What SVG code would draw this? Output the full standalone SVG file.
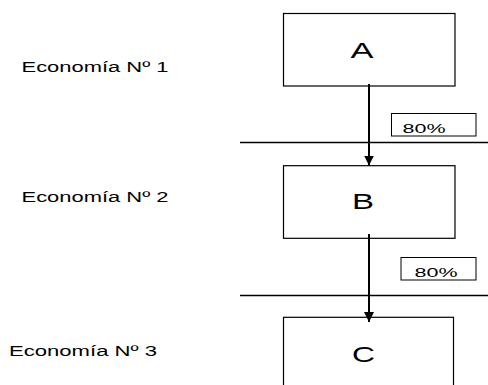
<svg xmlns="http://www.w3.org/2000/svg" width="488" height="385" viewBox="0 0 488 385">
<style>
.box{fill:#fff;stroke:#000;stroke-width:1.2}
.lbl{fill:#fff;stroke:#000;stroke-width:1}
.sep{stroke:#000;stroke-width:1.3;fill:none}
.arr{stroke:#000;stroke-width:2;fill:none}
text{font-family:"Liberation Sans",Arial,sans-serif;fill:#000}
.big{font-size:22px}
.side{font-size:14px}
.pct{font-size:13px}
</style>
<defs>
<marker id="ah" markerWidth="10" markerHeight="10" viewBox="0 0 10 10" refX="10" refY="5" orient="auto" markerUnits="userSpaceOnUse">
<path d="M0,0 L10,5 L0,10 Z" fill="#000"/>
</marker>
</defs>
<rect width="488" height="385" fill="#fff"/>
<g id="separators">
<line class="sep" x1="240" y1="142.5" x2="488" y2="142.5"/>
<line class="sep" x1="240" y1="295.5" x2="488" y2="295.5"/>
</g>
<g id="label1"><text class="side" x="21.5" y="71.5" textLength="147" lengthAdjust="spacingAndGlyphs">Economía Nº 1</text></g>
<g id="label2"><text class="side" x="21.5" y="201.5" textLength="147" lengthAdjust="spacingAndGlyphs">Economía Nº 2</text></g>
<g id="label3"><text class="side" x="9" y="356" textLength="148" lengthAdjust="spacingAndGlyphs">Economía Nº 3</text></g>
<g id="A">
<rect class="box" x="283.5" y="13.5" width="171.5" height="72.5"/>
<text class="big" x="350.5" y="57.7" textLength="23" lengthAdjust="spacingAndGlyphs">A</text>
</g>
<g id="B">
<rect class="box" x="283.5" y="165.7" width="171.5" height="72.6"/>
<text class="big" x="352" y="209.3" textLength="22" lengthAdjust="spacingAndGlyphs">B</text>
</g>
<g id="C">
<rect class="box" x="283.5" y="317.3" width="170" height="90"/>
<text class="big" x="352" y="361.7" textLength="23" lengthAdjust="spacingAndGlyphs">C</text>
</g>
<g id="pct1">
<rect class="lbl" x="391.5" y="113.5" width="84.5" height="22.5"/>
<text class="pct" x="402.5" y="133.3" textLength="43" lengthAdjust="spacingAndGlyphs">80%</text>
</g>
<g id="pct2">
<rect class="lbl" x="401" y="257.5" width="75" height="22.5"/>
<text class="pct" x="414.5" y="276.7" textLength="43" lengthAdjust="spacingAndGlyphs">80%</text>
</g>
<g id="connectors">
<line class="arr" x1="369" y1="84" x2="369" y2="165.5" marker-end="url(#ah)"/>
<line class="arr" x1="369" y1="234" x2="369" y2="322" marker-end="url(#ah)"/>
</g>
</svg>
